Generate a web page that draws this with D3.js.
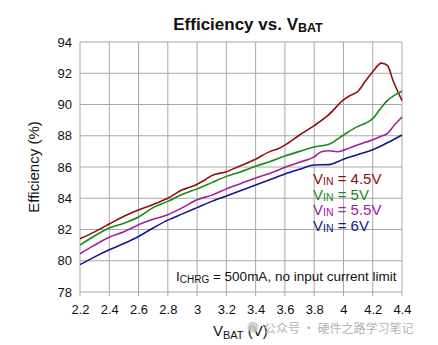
<!DOCTYPE html>
<html>
<head>
<meta charset="utf-8">
<script src="https://cdn.jsdelivr.net/npm/d3@7"></script>
<style>
  body { margin: 0; background: #fff; }
  svg text { font-family: "Liberation Sans", Arial, sans-serif; }
</style>
</head>
<body>
<div id="chart"></div>
<script>
// values
const xTicks = [2.2, 2.4, 2.6, 2.8, 3, 3.2, 3.4, 3.6, 3.8, 4, 4.2, 4.4];
const yTicks = [78, 80, 82, 84, 86, 88, 90, 92, 94];

const vbat45 = [2.2, 2.3, 2.4, 2.5, 2.6, 2.7, 2.8, 2.9, 2.95, 3.0, 3.05, 3.1, 3.2, 3.3, 3.4, 3.5, 3.55, 3.6, 3.7, 3.8, 3.9, 4.0, 4.05, 4.1, 4.15, 4.2, 4.26, 4.3, 4.34, 4.4];
const eff45  = [81.4, 81.85, 82.35, 82.85, 83.25, 83.6, 84.0, 84.55, 84.7, 84.9, 85.15, 85.45, 85.7, 86.1, 86.5, 87.0, 87.15, 87.4, 88.05, 88.65, 89.35, 90.3, 90.6, 90.85, 91.5, 92.1, 92.65, 92.5, 91.5, 90.25];

const vbat5 = [2.2, 2.3, 2.4, 2.5, 2.6, 2.7, 2.8, 2.9, 3.0, 3.1, 3.2, 3.3, 3.4, 3.5, 3.6, 3.7, 3.8, 3.9, 4.0, 4.1, 4.15, 4.2, 4.25, 4.3, 4.35, 4.4];
const eff5  = [81.0, 81.6, 82.1, 82.4, 82.8, 83.4, 83.8, 84.25, 84.6, 85.0, 85.4, 85.7, 86.05, 86.35, 86.7, 87.0, 87.28, 87.45, 88.05, 88.6, 88.8, 89.1, 89.7, 90.25, 90.6, 90.85];

const vbat55 = [2.2, 2.3, 2.4, 2.5, 2.6, 2.7, 2.8, 2.9, 3.0, 3.1, 3.2, 3.3, 3.4, 3.5, 3.6, 3.7, 3.8, 3.85, 3.9, 3.96, 4.05, 4.1, 4.2, 4.25, 4.3, 4.35, 4.4];
const eff55  = [80.45, 81.0, 81.5, 81.85, 82.3, 82.65, 82.95, 83.4, 83.9, 84.2, 84.6, 84.95, 85.3, 85.6, 85.98, 86.3, 86.65, 86.98, 87.04, 86.98, 87.25, 87.42, 87.75, 87.94, 88.15, 88.7, 89.2];

const vbat6 = [2.2, 2.3, 2.4, 2.5, 2.6, 2.7, 2.8, 2.9, 3.0, 3.1, 3.2, 3.3, 3.4, 3.5, 3.6, 3.7, 3.8, 3.9, 4.0, 4.1, 4.2, 4.3, 4.4];
const eff6  = [79.75, 80.25, 80.7, 81.1, 81.55, 82.1, 82.6, 83.0, 83.4, 83.8, 84.15, 84.5, 84.85, 85.2, 85.55, 85.85, 86.13, 86.15, 86.5, 86.8, 87.1, 87.55, 88.05];

const seriesNames = ["4.5V", "5V", "5.5V", "6V"];
const colors = ["#8b1111", "#1a8a1a", "#a020a0", "#16168c"];

const series = [
  { name: seriesNames[0], x: vbat45, y: eff45, color: colors[0] },
  { name: seriesNames[1], x: vbat5,  y: eff5,  color: colors[1] },
  { name: seriesNames[2], x: vbat55, y: eff55, color: colors[2] },
  { name: seriesNames[3], x: vbat6,  y: eff6,  color: colors[3] }
];

const width = 438, height = 345;
const margin = { top: 42, right: 36, bottom: 53, left: 80 };
const w = width - margin.left - margin.right;
const h = height - margin.top - margin.bottom;

const svg = d3.select("#chart").append("svg")
  .attr("width", width)
  .attr("height", height);

const g = svg.append("g")
  .attr("transform", `translate(${margin.left},${margin.top})`);

const x = d3.scaleLinear().domain([2.2, 4.4]).range([0, w]);
const y = d3.scaleLinear().domain([78, 94]).range([h, 0]);

// grid
g.append("g")
  .selectAll("line")
  .data(yTicks)
  .join("line")
  .attr("x1", 0).attr("x2", w)
  .attr("y1", d => y(d)).attr("y2", d => y(d))
  .attr("stroke", "#a8a8a8").attr("stroke-width", 1);

g.append("g")
  .selectAll("line")
  .data(xTicks)
  .join("line")
  .attr("x1", d => x(d)).attr("x2", d => x(d))
  .attr("y1", 0).attr("y2", h + 4)
  .attr("stroke", "#a8a8a8").attr("stroke-width", 1);

// axis labels
const yAxis = d3.axisLeft(y).tickValues(yTicks).tickSize(0).tickPadding(8);
g.append("g").call(yAxis)
  .call(s => s.select(".domain").remove())
  .selectAll("text")
  .attr("font-size", 13)
  .attr("fill", "#111")
  .style("font-family", "Liberation Sans, Arial, sans-serif");

const xAxis = d3.axisBottom(x).tickValues(xTicks).tickSize(0).tickPadding(13)
  .tickFormat(d3.format("~g"));
g.append("g").attr("transform", `translate(0,${h})`).call(xAxis)
  .call(s => s.select(".domain").remove())
  .selectAll("text")
  .attr("font-size", 13)
  .attr("fill", "#111")
  .style("font-family", "Liberation Sans, Arial, sans-serif");

// curves
const line = d3.line()
  .x(d => x(d[0]))
  .y(d => y(d[1]))
  .curve(d3.curveMonotoneX);

series.forEach(s => {
  g.append("path")
    .datum(s.x.map((v, i) => [v, s.y[i]]))
    .attr("fill", "none")
    .attr("stroke", s.color)
    .attr("stroke-width", 1.6)
    .attr("d", line);
});

// title
const title = svg.append("text")
  .attr("x", 248).attr("y", 30)
  .attr("text-anchor", "middle")
  .attr("font-size", 17)
  .attr("font-weight", "bold")
  .attr("fill", "#111");
title.append("tspan").text("Efficiency vs. V");
title.append("tspan").attr("font-size", 12.5).attr("dy", 2).text("BAT");

// y title
svg.append("text")
  .attr("transform", "translate(39,167) rotate(-90)")
  .attr("text-anchor", "middle")
  .attr("font-size", 15)
  .attr("fill", "#111")
  .text("Efficiency (%)");

// x title
const xt = svg.append("text")
  .attr("x", 213).attr("y", 336)
  .attr("font-size", 15)
  .attr("fill", "#111");
xt.append("tspan").text("V");
xt.append("tspan").attr("font-size", 11).attr("dy", 3).text("BAT");
xt.append("tspan").attr("dy", -3).text(" (V)");

// legend
const legend = svg.append("g");
series.forEach((s, i) => {
  const t = legend.append("text")
    .attr("x", 313).attr("y", 184 + i * 15.7)
    .attr("font-size", 15)
    .attr("fill", s.color);
  t.append("tspan").text("V");
  t.append("tspan").attr("font-size", 10.5).attr("dy", 1).text("IN");
  t.append("tspan").attr("dy", -1).text(" = " + s.name);
});

// annotation
const note = svg.append("text")
  .attr("x", 176).attr("y", 281)
  .attr("font-size", 13.5)
  .attr("fill", "#111");
note.append("tspan").text("I");
note.append("tspan").attr("font-size", 10).attr("dy", 2).text("CHRG");
note.append("tspan").attr("dy", -2).text(" = 500mA, no input current limit");

// watermark
svg.append("circle")
  .attr("cx", 253).attr("cy", 327).attr("r", 5.5)
  .attr("fill", "#c8c8c8").attr("opacity", 0.8);
svg.append("text")
  .attr("x", 264).attr("y", 333)
  .attr("font-size", 12)
  .attr("fill", "#b4b4b4")
  .style("font-family", "Noto Sans CJK SC, sans-serif")
  .text("公众号 · 硬件之路学习笔记");
</script>
</body>
</html>
